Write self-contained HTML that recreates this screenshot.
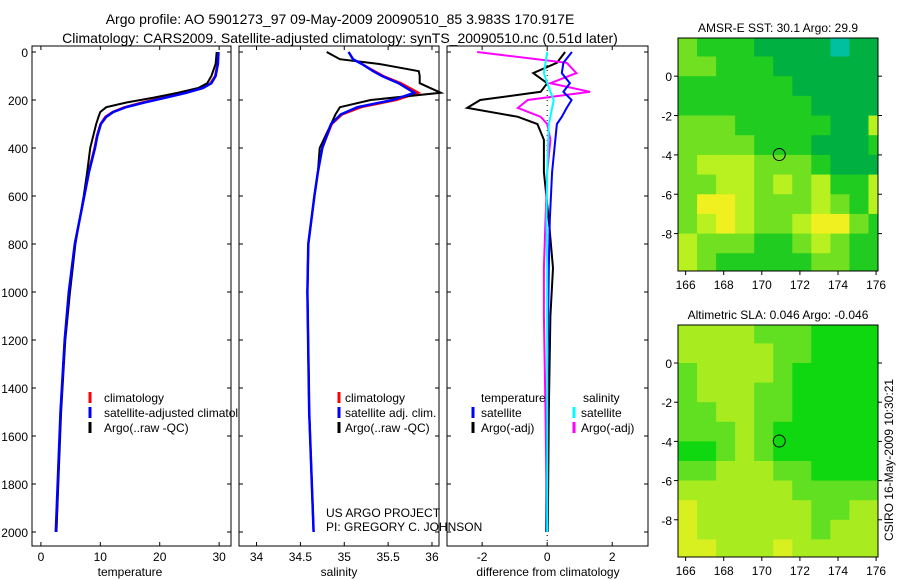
<!DOCTYPE html>
<html><head><meta charset="utf-8"><style>
body{margin:0;background:#fff;}
svg{display:block;font-family:"Liberation Sans",sans-serif;}
</style></head><body>
<svg id="c" width="900" height="580" xmlns="http://www.w3.org/2000/svg"></svg>
<script>
// ---- data ----
const depthTick=[0,200,400,600,800,1000,1200,1400,1600,1800,2000];
const tDepth=[0,50,100,130,150,170,190,210,230,250,270,300,350,400,500,600,800,1000,1200,1500,2000];
const tClim=[29.8,29.7,29.3,28.5,27,24,20.5,17,14,12,10.8,10,9.4,9,8,7.3,5.7,4.7,4.0,3.3,2.6];
const tSat=[29.9,29.8,29.4,28.7,27.3,24.5,21,17.5,14.3,12.2,11,10.1,9.5,9.1,8.1,7.3,5.7,4.7,4.0,3.3,2.5];
const tArgo=[29.6,29.4,28.7,28,26.5,23,19,14.5,11,10,9.7,9.3,8.8,8.3,7.8,7.2,5.8,4.9,4.1,3.4,2.6];
const sDepth=[0,30,50,80,100,130,170,200,230,260,300,400,500,600,800,1000,1500,2000];
const sClim=[35.05,35.1,35.2,35.35,35.45,35.65,35.85,35.6,35.2,34.98,34.86,34.75,34.7,34.66,34.59,34.58,34.6,34.65];
const sSat=[35.05,35.1,35.2,35.33,35.43,35.62,35.8,35.55,35.15,34.96,34.85,34.75,34.7,34.66,34.59,34.58,34.6,34.65];
const sArgo=[34.8,34.95,35.4,35.85,35.86,35.86,36.1,35.3,34.95,34.9,34.85,34.72,34.7,34.66,34.59,34.58,34.6,34.65];
const dDepth=[0,45,88,130,166,200,233,270,300,366,500,700,900,1100,1500,2000];
const dTsat=[0.76,0.5,0.45,0.7,0.5,0.75,0.6,0.45,0.3,0.25,0.15,0.08,0.05,0.03,0.0,-0.03];
const dTargo=[0.55,0.3,-0.43,0,-0.2,-2.06,-2.46,-0.9,-0.3,-0.1,-0.1,0.05,0.18,0.1,0.05,0.02];
const dSsat=[0,-0.05,-0.1,0,0.1,0.2,0.15,0.1,0.05,0.03,0,-0.02,0,0,0,0];
const dSargo=[-2.15,0.6,0.9,0.1,1.32,-0.6,-0.9,-0.2,0,0.1,0,-0.05,-0.1,-0.1,-0.05,0];
const lonTicks=[166,168,170,172,174,176];
const latTicks=[0,-2,-4,-6,-8];
const sstGrid=[
[3,2,2,2,1,1,1,1,0,1,1],[3,3,2,2,2,1,1,1,1,1,1],[2,2,2,2,2,2,1,1,1,1,1],[2,2,2,2,2,2,2,1,1,1,1],
[3,3,3,2,2,2,2,2,1,1,4],[3,3,3,3,2,2,2,1,1,1,2],[3,4,4,4,3,3,3,2,1,1,1],[3,3,4,4,3,4,3,4,2,2,4],
[3,5,5,4,3,3,3,4,3,2,4],[3,4,5,4,3,3,4,5,5,3,2],[4,3,3,3,2,2,3,4,3,2,2],[4,3,2,2,2,2,2,3,3,2,2]];
const slaGrid=[
[4,4,4,4,3,3,3,2,2,2,2],[4,4,4,4,4,3,3,2,2,2,2],[3,4,4,4,4,3,2,2,2,2,2],[3,4,4,4,3,3,2,2,2,2,2],
[3,3,4,4,3,3,2,2,2,2,2],[3,3,3,4,3,2,2,2,2,2,2],[2,2,3,4,3,2,2,2,2,2,2],[3,3,4,4,4,3,3,2,2,2,2],
[4,4,4,4,4,4,3,3,3,3,3],[5,4,4,4,4,4,4,3,3,4,4],[5,4,4,4,4,4,4,3,4,4,4],[5,5,4,4,4,5,4,4,4,4,4]];
const floatLon=170.917, floatLat=-3.983;

// ---- helpers ----
const NS="http://www.w3.org/2000/svg";
const svg=document.getElementById('c');
function mk(tag,attrs,parent){const e=document.createElementNS(NS,tag);for(const k in attrs)e.setAttribute(k,attrs[k]);(parent||svg).appendChild(e);return e;}
function txt(s,x,y,anchor,size,parent){const t=mk('text',{x:x,y:y,'text-anchor':anchor||'start','font-size':size||12,fill:'#000'},parent);t.textContent=s;return t;}
const TOP=52,PX=0.24;
const yD=d=>TOP+d*PX;
function panel(name,x0,x1,vmin,vmax){
  const g=mk('g',{});
  
  
  mk('rect',{x:x0,y:46,width:x1-x0,height:500,fill:'#fff',stroke:'#000','stroke-width':1},g);
  return {g:g,x:v=>x0+(v-vmin)/(vmax-vmin)*(x1-x0),x0:x0,x1:x1};
}
function line(p,xs,ds,color,w,name){
  const pts=xs.map((v,i)=>p.x(v).toFixed(1)+','+yD(ds[i]).toFixed(1)).join(' ');
  const l=mk('polyline',{points:pts,fill:'none',stroke:color,'stroke-width':w},p.g);
  
  
}
function yTicks(p){
  depthTick.forEach(d=>{
    mk('line',{x1:p.x0,x2:p.x0+4,y1:yD(d),y2:yD(d),stroke:'#000'},p.g);
    mk('line',{x1:p.x1,x2:p.x1-4,y1:yD(d),y2:yD(d),stroke:'#000'},p.g);
  });
}
function xTicks(p,vals,labels){
  vals.forEach((v,i)=>{
    mk('line',{x1:p.x(v),x2:p.x(v),y1:546,y2:542,stroke:'#000'},p.g);
    mk('line',{x1:p.x(v),x2:p.x(v),y1:46,y2:50,stroke:'#000'},p.g);
    const t=txt(labels[i],p.x(v),561,'middle',12,p.g);
    
    
  });
}
function legMark(p,x,y,color){mk('line',{x1:x,x2:x,y1:y-10,y2:y+1,stroke:color,'stroke-width':3},p.g);}

// titles
let t=txt('Argo profile: AO 5901273_97 09-May-2009 20090510_85 3.983S 170.917E',340,24,'middle',14);


t=txt('Climatology: CARS2009. Satellite-adjusted climatology: synTS_20090510.nc (0.51d later)',340,43,'middle',14);



// y labels
depthTick.forEach(d=>{const e=txt(String(d),28,yD(d)+5,'end',12);

});

// temperature panel
const p1=panel('temperature-panel',32,231,-1.5,32);
yTicks(p1);xTicks(p1,[0,10,20,30],['0','10','20','30']);
line(p1,tClim,tDepth,'#f00',2,'temperature-climatology-line');
line(p1,tArgo,tDepth,'#000',2,'temperature-argo-line');
line(p1,tSat,tDepth,'#00f',2.5,'temperature-satellite-line');
legMark(p1,90,402,'#f00');txt('climatology',104,402,'start',12,p1.g);
legMark(p1,90,417,'#00f');txt('satellite-adjusted climatology',104,417,'start',12,p1.g);
legMark(p1,90,432,'#000');txt('Argo(..raw -QC)',104,432,'start',12,p1.g);
t=txt('temperature',130,576,'middle',12);



// salinity panel
const p2=panel('salinity-panel',239,439,33.8,36.08);
yTicks(p2);xTicks(p2,[34,34.5,35,35.5,36],['34','34.5','35','35.5','36']);
line(p2,sClim,sDepth,'#f00',2,'salinity-climatology-line');
line(p2,sArgo,sDepth,'#000',2,'salinity-argo-line');
line(p2,sSat,sDepth,'#00f',2.5,'salinity-satellite-line');
legMark(p2,339,402,'#f00');txt('climatology',345,402,'start',12,p2.g);
legMark(p2,339,417,'#00f');txt('satellite adj. clim.',345,417,'start',12,p2.g);
legMark(p2,339,432,'#000');txt('Argo(..raw -QC)',345,432,'start',12,p2.g);
t=txt('salinity',339,576,'middle',12);



// difference panel
const p3=panel('difference-panel',447,648,-3.08,3.1);
yTicks(p3);xTicks(p3,[-2,0,2],['-2','0','2']);
mk('line',{x1:p3.x(0),x2:p3.x(0),y1:50,y2:542,stroke:'#000','stroke-dasharray':'1,4'},p3.g);
line(p3,dTargo,dDepth,'#000',2,'temperature-argo-diff-line');
line(p3,dSargo,dDepth,'#f0f',2,'salinity-argo-diff-line');
line(p3,dTsat,dDepth,'#00f',2,'temperature-satellite-diff-line');
line(p3,dSsat,dDepth,'#0ff',2,'salinity-satellite-diff-line');
txt('temperature',481,402,'start',12,p3.g);txt('salinity',583,402,'start',12,p3.g);
legMark(p3,473,417,'#00f');txt('satellite',481,417,'start',12,p3.g);
legMark(p3,574,417,'#0ff');txt('satellite',581,417,'start',12,p3.g);
legMark(p3,473,432,'#000');txt('Argo(-adj)',481,432,'start',12,p3.g);
legMark(p3,574,432,'#f0f');txt('Argo(-adj)',581,432,'start',12,p3.g);
t=txt('difference from climatology',548,576,'middle',12);



t=txt('US ARGO PROJECT',326,517,'start',12);


t=txt('PI: GREGORY C. JOHNSON',326,531,'start',12);



// maps
const cmap=['#00c0a0','#00b040','#20cc20','#70e020','#b8f020','#f0f020','#f0c020'];
const cmap2=['#00c0a0','#00c830','#10d810','#60e020','#a8ec20','#d8f020','#f0d020'];
function map(name,top,bot,grid,colors,title){
  const g=mk('g',{});
  
  
  const L=678,R=878,lon0=165.6,lon1=176.1,lat0=1.94,lat1=-9.9;
  const X=v=>L+(v-lon0)/(lon1-lon0)*(R-L), Y=v=>top+(lat0-v)/(lat0-lat1)*(bot-top);
  mk('clipPath',{id:name+'-clip'},g);
  const cp=g.lastChild;mk('rect',{x:L,y:top,width:R-L,height:bot-top},cp);
  const cg=mk('g',{'clip-path':'url(#'+name+'-clip)'},g);
  grid.forEach((row,r)=>row.forEach((v,c)=>{
    const la=2-r, lo=165.6+c;
    const cell=mk('rect',{x:X(lo),y:Y(la),width:X(lo+1)-X(lo)+0.5,height:Y(la-1)-Y(la)+0.5,fill:colors[v]},cg);
    
    
  }));
  mk('rect',{x:L,y:top,width:R-L,height:bot-top,fill:'none',stroke:'#000'},g);
  lonTicks.forEach(v=>{mk('line',{x1:X(v),x2:X(v),y1:bot,y2:bot+4,stroke:'#000'},g);txt(String(v),X(v),bot+18,'middle',12,g);});
  latTicks.forEach(v=>{mk('line',{x1:L,x2:L-4,y1:Y(v),y2:Y(v),stroke:'#000'},g);mk('line',{x1:R,x2:R+4,y1:Y(v),y2:Y(v),stroke:'#000'},g);txt(String(v),672,Y(v)+5,'end',12,g);});
  const c=mk('circle',{cx:X(floatLon),cy:Y(floatLat),r:6,fill:'none',stroke:'#000'},g);
  
  
  const tt=txt(title,778,top-6,'middle',12,g);
  
  
}
map('sst-map',38,271,sstGrid,cmap,'AMSR-E SST: 30.1 Argo: 29.9');
map('sla-map',325,557,slaGrid,cmap2,'Altimetric SLA: 0.046 Argo: -0.046');
t=txt('CSIRO 16-May-2009 10:30:21',0,0,'middle',12);
t.setAttribute('transform','translate(893,460) rotate(-90)');


</script>
</body></html>
